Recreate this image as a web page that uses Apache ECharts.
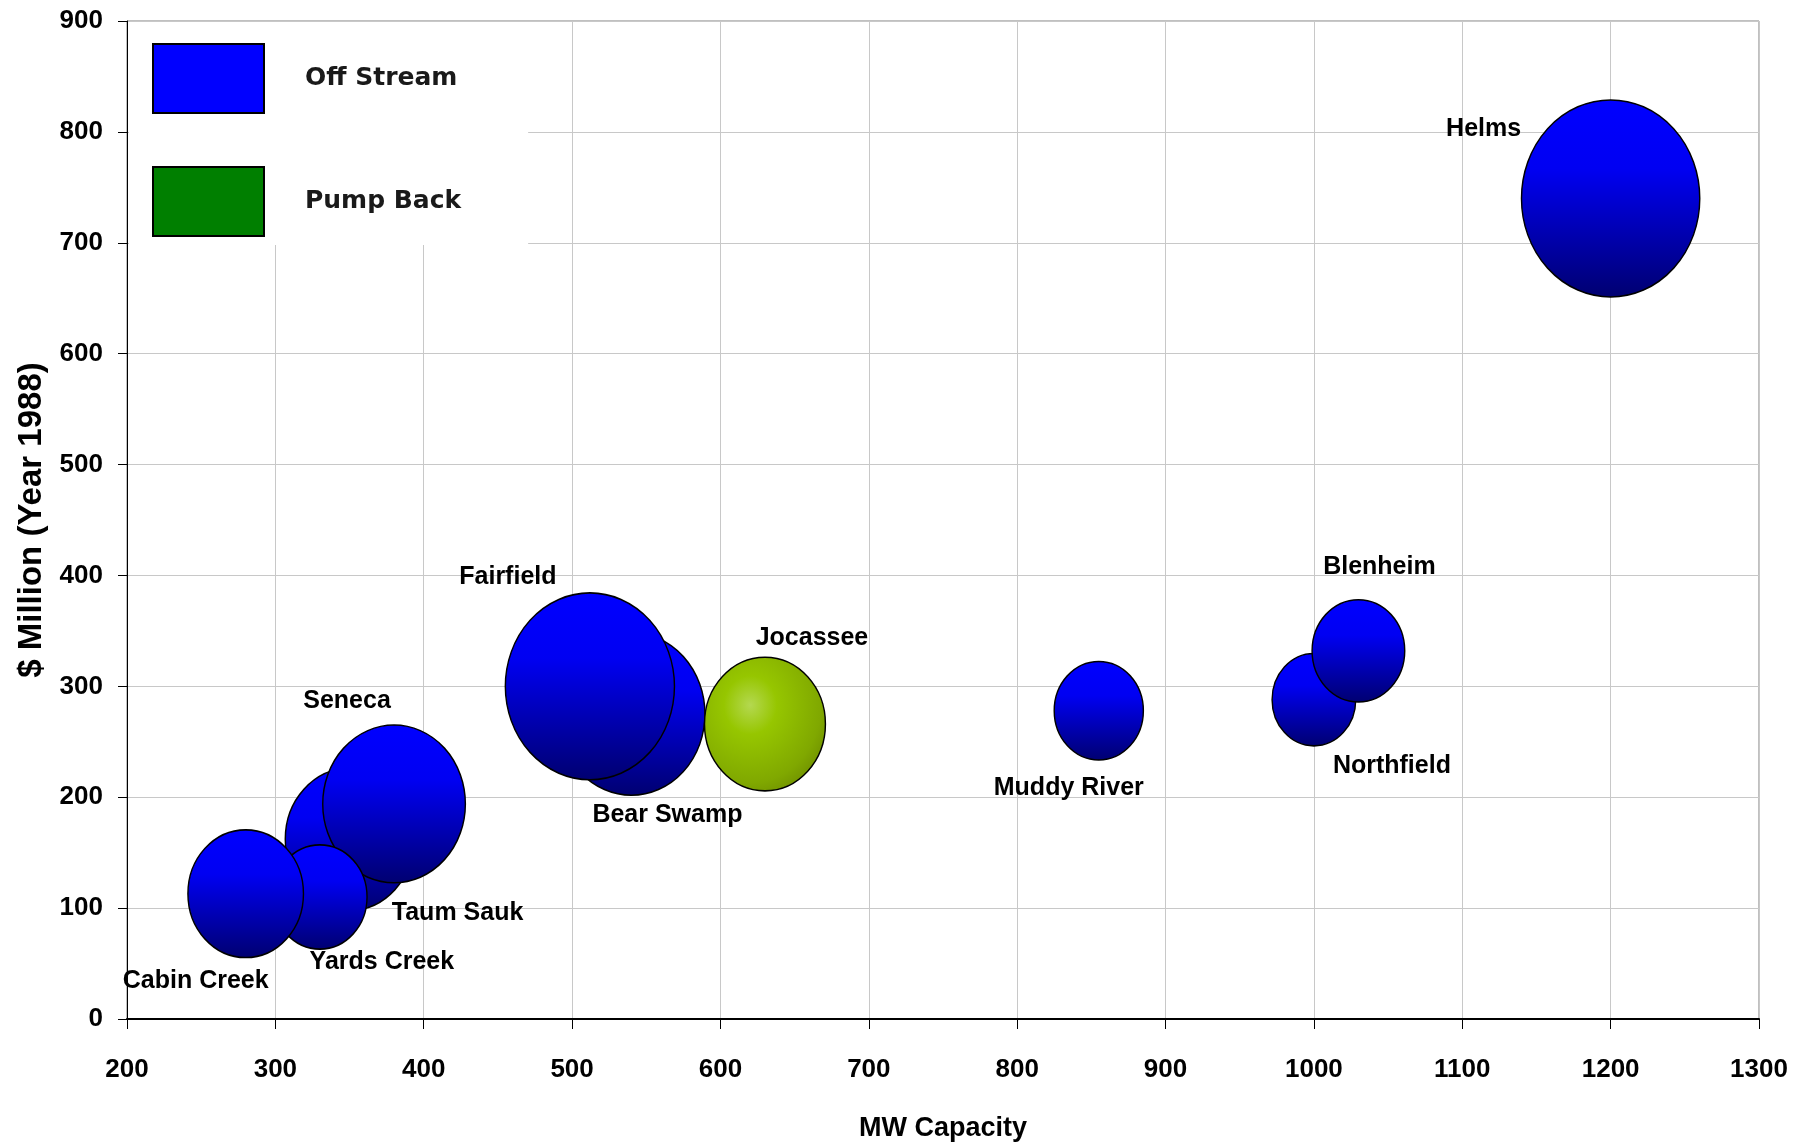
<!DOCTYPE html>
<html>
<head>
<meta charset="utf-8">
<script src="https://cdn.jsdelivr.net/npm/echarts@6/dist/echarts.min.js"></script>
<style>
html,body{margin:0;padding:0;background:#fff;}
#chart{width:1798px;height:1147px;}
</style>
</head>
<body>
<div id="chart"></div>
<script>
// ---- data ----
const offStreamNames = ['Taum Sauk','Seneca','Yards Creek','Cabin Creek','Bear Swamp','Fairfield','Northfield','Blenheim','Muddy River','Helms'];
const offStreamMW    = [350, 380, 330, 280, 540, 512, 1000, 1030, 855, 1200];
const offStreamCost  = [162, 194, 110, 113, 275, 300, 288, 332, 278, 740];
const offStreamSize  = [52, 64, 28, 42, 68, 90, 22, 27, 25, 100];

const pumpBackNames = ['Jocassee'];
const pumpBackMW    = [630];
const pumpBackCost  = [266];
const pumpBackSize  = [46];

const xTicks = [200,300,400,500,600,700,800,900,1000,1100,1200,1300];
const yTicks = [0,100,200,300,400,500,600,700,800,900];

// ---- layout / style (not data) ----
const labelOffsets = {
  'Taum Sauk':[108,74], 'Seneca':[-47,-103], 'Yards Creek':[62,65], 'Cabin Creek':[-50,87],
  'Bear Swamp':[36,101], 'Fairfield':[-82,-109], 'Northfield':[78,66], 'Blenheim':[21,-84],
  'Muddy River':[-30,77], 'Helms':[-127,-69], 'Jocassee':[47,-86]
};
const MAX_D = 197;      // diameter (px) of the size-100 bubble
const ASPECT = 0.905;   // bubbles are slightly taller than wide

function bubbleSize(v){
  const h = MAX_D * Math.sqrt(v[2] / 100);
  return [h * ASPECT, h];
}
function build(names, xs, ys, ss){
  return names.map((n,i)=>({
    name:n, value:[xs[i], ys[i], ss[i]],
    label:{offset: labelOffsets[n] || [0,0]}
  }));
}

const labelFont = {fontFamily:'"Liberation Sans", Arial, sans-serif', fontWeight:'bold', fontSize:25, color:'#000'};

const blueGrad = new echarts.graphic.LinearGradient(0,0,0,1,[
  {offset:0, color:'#0000ff'},
  {offset:0.35, color:'#0000f2'},
  {offset:1, color:'#000070'}
]);
const greenGrad = new echarts.graphic.RadialGradient(0.38,0.36,0.72,[
  {offset:0, color:'#b4d850'},
  {offset:0.3, color:'#96c600'},
  {offset:0.8, color:'#80a800'},
  {offset:1, color:'#6f9000'}
]);

const chart = echarts.init(document.getElementById('chart'), null, {renderer:'canvas'});
chart.setOption({
  animation:false,
  backgroundColor:'#fff',
  grid:{left:127, right:39, top:21, bottom:127, show:true, borderColor:'#808080', borderWidth:1},
  legend:{
    orient:'vertical', left:129, top:22,
    padding:[21,67,8,23],
    backgroundColor:'#fff',
    itemWidth:111, itemHeight:69, itemGap:52,
    textStyle:{fontFamily:'"DejaVu Sans", Verdana, sans-serif', fontWeight:'bold', fontSize:25, color:'#1a1a1a', padding:[3,0,0,36]},
    data:[
      {name:'Off Stream', icon:'rect', itemStyle:{color:'#0000ff', borderColor:'#000', borderWidth:2}},
      {name:'Pump Back', icon:'rect', itemStyle:{color:'#007f00', borderColor:'#000', borderWidth:2}}
    ]
  },
  xAxis:{
    type:'value', min:xTicks[0], max:xTicks[xTicks.length-1], interval:100,
    name:'MW Capacity', nameLocation:'middle', nameGap:96,
    nameTextStyle:{fontFamily:'"Liberation Sans", Arial, sans-serif', fontWeight:'bold', fontSize:27, color:'#000'},
    axisLine:{show:true, onZero:false, lineStyle:{color:'#000', width:2}},
    axisTick:{show:true, length:10, lineStyle:{color:'#000', width:1}},
    axisLabel:{margin:38, formatter:v=>String(v), fontFamily:'"Liberation Sans", Arial, sans-serif', fontWeight:'bold', fontSize:26, color:'#000'},
    splitLine:{show:true, lineStyle:{color:'#c8c8c8', width:1}}
  },
  yAxis:{
    type:'value', min:yTicks[0], max:yTicks[yTicks.length-1], interval:100,
    name:'$ Million (Year 1988)', nameLocation:'middle', nameGap:79,
    nameTextStyle:{fontFamily:'"Liberation Sans", Arial, sans-serif', fontWeight:'bold', fontSize:33, color:'#000'},
    axisLine:{show:true, onZero:false, lineStyle:{color:'#000', width:1}},
    axisTick:{show:true, length:9, lineStyle:{color:'#000', width:1}},
    axisLabel:{margin:24, formatter:v=>String(v), fontFamily:'"Liberation Sans", Arial, sans-serif', fontWeight:'bold', fontSize:26, color:'#000'},
    splitLine:{show:true, lineStyle:{color:'#c8c8c8', width:1}}
  },
  series:[
    {
      name:'Off Stream', type:'scatter', symbol:'circle',
      symbolSize: bubbleSize,
      itemStyle:{color:blueGrad, borderColor:'#000', borderWidth:1.5, opacity:1},
      label:{show:true, position:'inside', formatter:p=>p.name, ...labelFont},
      emphasis:{disabled:true},
      data: build(offStreamNames, offStreamMW, offStreamCost, offStreamSize)
    },
    {
      name:'Pump Back', type:'scatter', symbol:'circle',
      symbolSize: bubbleSize,
      itemStyle:{color:greenGrad, borderColor:'#000', borderWidth:1.5, opacity:1},
      label:{show:true, position:'inside', formatter:p=>p.name, ...labelFont},
      emphasis:{disabled:true},
      data: build(pumpBackNames, pumpBackMW, pumpBackCost, pumpBackSize)
    }
  ]
});
</script>
</body>
</html>
